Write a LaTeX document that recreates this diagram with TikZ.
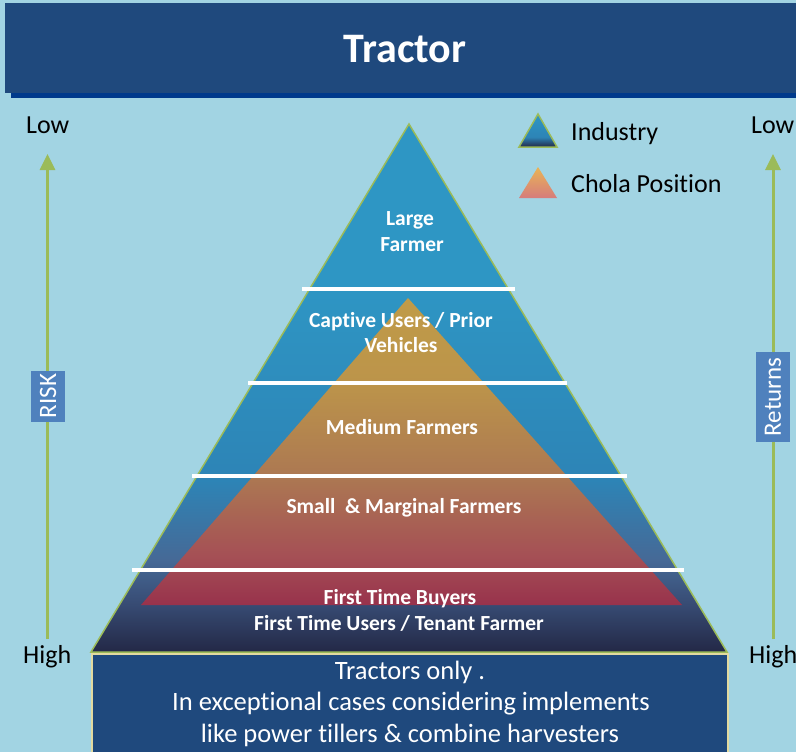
\documentclass[tikz,border=0pt]{standalone}
\usepackage{fontspec}
\setmainfont[Ligatures=NoCommon]{Carlito}
\usetikzlibrary{arrows.meta}
\definecolor{bgc}{RGB}{162,212,227}
\definecolor{banner}{RGB}{31,73,125}
\definecolor{bannerline}{RGB}{0,58,140}
\definecolor{arrowc}{RGB}{155,187,89}
\definecolor{boxc}{RGB}{79,129,189}
\definecolor{creamc}{RGB}{226,218,160}
\definecolor{navyb}{RGB}{35,40,70}
\definecolor{nvA}{RGB}{55,75,115}
\definecolor{nvB}{RGB}{70,105,150}
\definecolor{bluA}{RGB}{45,132,182}
\definecolor{bluB}{RGB}{46,150,196}
\definecolor{goldA}{RGB}{192,155,72}
\definecolor{goldB}{RGB}{188,148,74}
\definecolor{midC}{RGB}{172,120,82}
\definecolor{redA}{RGB}{165,80,85}
\definecolor{redB}{RGB}{152,50,76}
\definecolor{legO}{RGB}{233,180,85}
\definecolor{legP}{RGB}{214,124,124}
\pgfdeclareverticalshading{indshade}{100bp}{color(0bp)=(navyb); color(25bp)=(navyb); color(29.5bp)=(nvA); color(33.7bp)=(nvB); color(41.3bp)=(bluA); color(60bp)=(bluB); color(100bp)=(bluB)}
\pgfdeclareverticalshading{cholashade}{100bp}{color(0bp)=(redB); color(25bp)=(redB); color(33bp)=(redA); color(46bp)=(midC); color(61bp)=(goldB); color(75bp)=(goldA); color(100bp)=(goldA)}
\pgfdeclareverticalshading{legind}{100bp}{color(0bp)=(navyb); color(25bp)=(navyb); color(40bp)=(bluA); color(75bp)=(bluB); color(100bp)=(bluB)}
\pgfdeclareverticalshading{legchola}{100bp}{color(0bp)=(legP); color(25bp)=(legP); color(75bp)=(legO); color(100bp)=(legO)}
\tikzset{
  lbl/.style={text=white, font=\fontsize{21.5}{25}\selectfont\bfseries, inner sep=0pt, anchor=base},
  side/.style={text=black, font=\fontsize{26}{30}\selectfont, inner sep=0pt, anchor=base west},
  boxtxt/.style={text=white, font=\fontsize{26.5}{30}\selectfont, inner sep=0pt, anchor=base},
  tag/.style={fill=boxc, text=white, font=\fontsize{25}{30}\selectfont, rotate=90, inner sep=0pt, anchor=center},
  riskarrow/.style={draw=arrowc, line width=3pt, -{Triangle[width=15pt,length=16pt]}},
  divider/.style={draw=white, line width=4.5pt},
}
\begin{document}
\begin{tikzpicture}[x=1pt,y=-1pt]
\useasboundingbox (0,0) rectangle (796,752);
\fill[bgc] (0,0) rectangle (796,752);
% banner
\fill[bannerline] (11,92) rectangle (796,98);
\fill[banner] (5,3) rectangle (796,93);
\node[text=white, font=\fontsize{42}{48}\selectfont\bfseries, inner sep=0pt, anchor=base] (title) at (405,63) {Tractor};
% pyramid
\path[shading=indshade, draw=arrowc, line width=1.5pt] (409,124) -- (727,652) -- (91,652) -- cycle;
\path[shading=cholashade] (408,298) -- (682,605) -- (141,605) -- cycle;
\draw[divider] (302,289) -- (515,289);
\draw[divider] (248,383) -- (567,383);
\draw[divider] (192,476) -- (627,476);
\draw[divider] (132,570) -- (684,570);
\node[lbl] (large) at (410,225) {Large};
\node[lbl] (farmer) at (412,251) {Farmer};
\node[lbl] (captive) at (401,327) {Captive Users / Prior};
\node[lbl] (vehicles) at (401,352) {Vehicles};
\node[lbl] (medium) at (402,434) {Medium Farmers};
\node[lbl] (small) at (404,513) {Small\ \ \& Marginal Farmers};
\node[lbl] (ftb) at (400,604) {First Time Buyers};
\node[lbl] (ftu) at (399,630) {First Time Users / Tenant Farmer};
% bottom box
\draw[fill=banner, draw=creamc, line width=2pt] (92,654) rectangle (728,754);
\node[boxtxt] (b1) at (410,679) {Tractors only .};
\node[boxtxt] (b2) at (411,710) {In exceptional cases considering implements};
\node[boxtxt] (b3) at (410,742) {like power tillers \& combine harvesters};
% legend
\path[shading=legind, draw=arrowc, line width=1.5pt] (538,114) -- (557,147) -- (519,147) -- cycle;
\path[shading=legchola] (538,167) -- (557,198) -- (519,198) -- cycle;
\node[side] (lind) at (571,140) {Industry};
\node[side] (lchola) at (571,192) {Chola Position};
% side scales
\node[side] (lowL) at (26,133) {Low};
\node[side] (highL) at (23,663) {High};
\node[side] (lowR) at (751,133) {Low};
\node[side] (highR) at (749,663) {High};
\coordinate (aLb) at (47.5,639);
\coordinate (aLt) at (47.5,154);
\coordinate (aRb) at (773,639);
\coordinate (aRt) at (773,154);
\draw[riskarrow] (aLb) -- (aLt);
\draw[riskarrow] (aRb) -- (aRt);
\node[tag, minimum width=51pt, minimum height=34pt] (risk) at (48,396) {RISK};
\node[tag, minimum width=90pt, minimum height=34pt] (returns) at (773,397) {Returns};
\end{tikzpicture}
\end{document}
